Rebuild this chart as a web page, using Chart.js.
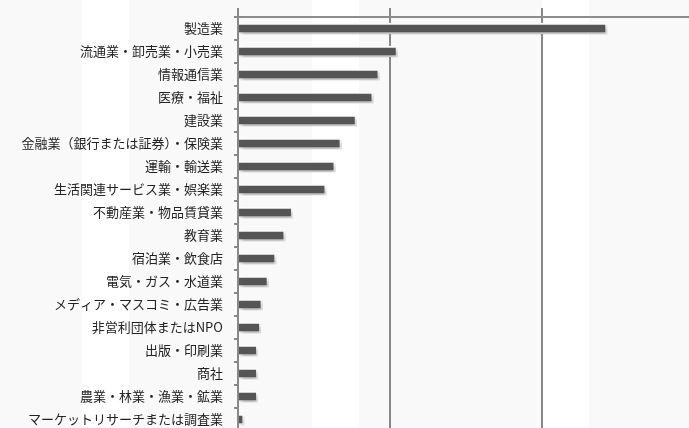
<!DOCTYPE html>
<html>
<head>
<meta charset="utf-8">
<script src="https://cdn.jsdelivr.net/npm/chart.js@4"></script>
<style>
  html, body { margin: 0; padding: 0; overflow: hidden; }
  body {
    width: 689px; height: 428px;
    background: repeating-linear-gradient(90deg, #f9f9f9 0 82px, #fff 82px 129px, #f9f9f9 129px 230px);
  }
  canvas { display: block; }
</style>
</head>
<body>
<canvas id="industryChart" width="689" height="431"></canvas>
<script>
// --- Data ---
const industries = [
  "製造業", "流通業・卸売業・小売業", "情報通信業", "医療・福祉", "建設業",
  "金融業（銀行または証券）・保険業", "運輸・輸送業", "生活関連サービス業・娯楽業",
  "不動産業・物品賃貸業", "教育業", "宿泊業・飲食店", "電気・ガス・水道業",
  "メディア・マスコミ・広告業", "非営利団体またはNPO", "出版・印刷業", "商社",
  "農業・林業・漁業・鉱業", "マーケットリサーチまたは調査業"
];
const shares = [24.3, 10.5, 9.3, 8.9, 7.8, 6.8, 6.4, 5.8, 3.6, 3.1, 2.5, 2.0, 1.6, 1.5, 1.3, 1.3, 1.3, 0.4];
const gridTicks = [0, 10, 20];

// soft drop shadow under the bars
const barShadow = {
  id: 'barShadow',
  beforeDatasetsDraw(chart) {
    const ctx = chart.ctx;
    ctx.save();
    ctx.shadowColor = 'rgba(0,0,0,0.3)';
    ctx.shadowBlur = 5;
    ctx.shadowOffsetX = 2;
    ctx.shadowOffsetY = 3;
  },
  afterDatasetsDraw(chart) {
    chart.ctx.restore();
  }
};

const ctx = document.getElementById("industryChart").getContext("2d");
new Chart(ctx, {
  type: 'bar',
  data: {
    labels: industries,
    datasets: [{
      data: shares,
      backgroundColor: '#555555',
      borderColor: '#ffffff',
      borderWidth: 2,
      borderSkipped: 'start',
      barThickness: 11
    }]
  },
  options: {
    indexAxis: 'y',
    responsive: false,
    animation: false,
    layout: { padding: 0 },
    plugins: {
      legend: { display: false },
      tooltip: { enabled: false }
    },
    scales: {
      x: {
        position: 'top',
        min: 0,
        max: 29.7,
        afterBuildTicks: axis => { axis.ticks = gridTicks.map(v => ({ value: v })); },
        afterFit: scale => { scale.height = 17; scale.paddingLeft = 0; scale.paddingRight = 0; },
        ticks: { display: false },
        grid: { color: '#888888', lineWidth: 2, tickLength: 9 },
        border: { color: '#8c8c8c', width: 2 }
      },
      y: {
        afterFit: scale => { scale.width = 238; scale.paddingTop = 0; scale.paddingBottom = 0; },
        ticks: {
          color: '#222222',
          padding: 11,
          autoSkip: false,
          font: { family: "'Noto Sans CJK JP', sans-serif", size: 13 }
        },
        grid: { drawOnChartArea: false, color: '#888888', lineWidth: 2, tickLength: 4 },
        border: { color: '#888888', width: 2 }
      }
    }
  },
  plugins: [barShadow]
});
</script>
</body>
</html>
